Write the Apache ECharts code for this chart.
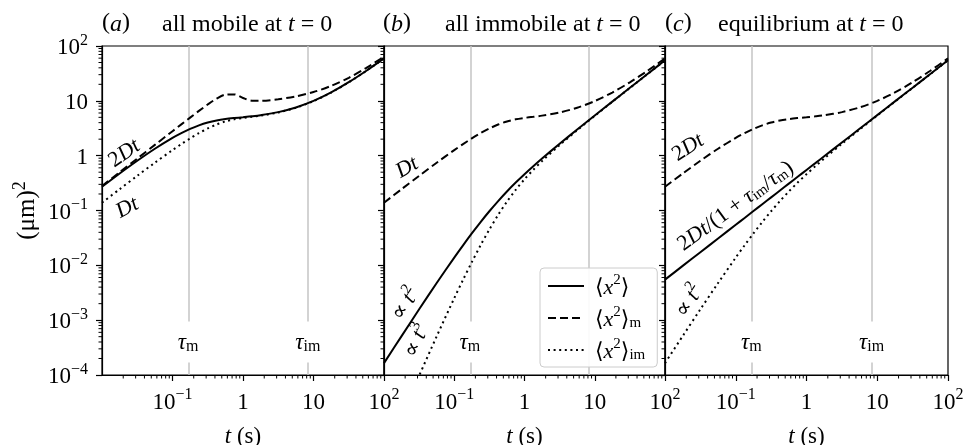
<!DOCTYPE html>
<html>
<head>
<meta charset="utf-8">
<script src="https://cdn.jsdelivr.net/npm/echarts@6/dist/echarts.min.js"></script>
<style>
  html, body { margin: 0; padding: 0; background: #fff; }
  #chart { width: 965px; height: 445px; }
</style>
</head>
<body>
<div id="chart"></div>
<script>
// Sampling times t (s)
const T = [0.01, 0.01778, 0.03162, 0.05623, 0.1, 0.1334, 0.1778, 0.2371, 0.3162, 0.4217,
           0.5623, 0.7499, 1, 1.334, 1.778, 3.162, 5.623, 10, 17.78, 31.62, 56.23, 100];

// (a) all mobile at t = 0 : <x^2>, <x^2>_m, <x^2>_im  (um^2)
const A_TOTAL    = [0.2718, 0.4723, 0.8066, 1.337, 2.108, 2.575, 3.072, 3.565, 4.011, 4.377,
                    4.651, 4.852, 5.025, 5.216, 5.462, 6.222, 7.573, 9.976, 14.25, 21.85, 35.36, 59.39];
const A_MOBILE   = [0.2800, 0.4979, 0.8853, 1.574, 2.795, 3.722, 4.947, 6.548, 8.580, 10.94,
                    12.96, 13.10, 11.28, 10.08, 9.984, 10.71, 12.06, 14.46, 18.73, 26.33, 39.84, 63.87];
const A_IMMOBILE = [0.1387, 0.2447, 0.4290, 0.7440, 1.264, 1.626, 2.064, 2.574, 3.134, 3.698,
                    4.204, 4.600, 4.886, 5.118, 5.371, 6.132, 7.483, 9.886, 14.16, 21.76, 35.27, 59.30];

// (b) all immobile at t = 0
const B_TOTAL    = [1.646e-4, 5.125e-4, 1.577e-3, 4.752e-3, 0.01384, 0.02317, 0.03814, 0.06150, 0.09686, 0.1486,
                    0.2219, 0.3229, 0.4595, 0.6424, 0.8866, 1.646, 2.998, 5.400, 9.674, 17.27, 30.78, 54.81];
const B_MOBILE   = [0.1387, 0.2447, 0.4290, 0.7440, 1.264, 1.626, 2.064, 2.574, 3.134, 3.698,
                    4.204, 4.600, 4.886, 5.118, 5.371, 6.132, 7.483, 9.886, 14.16, 21.76, 35.27, 59.30];
const B_IMMOBILE = [3.27e-6, 1.79e-5, 9.69e-5, 5.07e-4, 2.520e-3, 5.446e-3, 0.01144, 0.02320, 0.04504, 0.08309,
                    0.1449, 0.2382, 0.3712, 0.5530, 0.7969, 1.557, 2.908, 5.311, 9.584, 17.18, 30.69, 54.72];

// (c) equilibrium at t = 0
const C_TOTAL    = [0.005490, 0.009763, 0.01736, 0.03087, 0.05490, 0.07321, 0.09763, 0.1302, 0.1736, 0.2315,
                    0.3087, 0.4117, 0.5490, 0.7321, 0.9763, 1.736, 3.087, 5.490, 9.763, 17.36, 30.87, 54.90];
const C_MOBILE   = [0.2718, 0.4723, 0.8066, 1.337, 2.108, 2.575, 3.072, 3.565, 4.011, 4.377,
                    4.651, 4.852, 5.025, 5.216, 5.462, 6.222, 7.573, 9.976, 14.25, 21.85, 35.36, 59.39];
const C_IMMOBILE = [1.646e-4, 5.125e-4, 1.577e-3, 4.752e-3, 0.01384, 0.02317, 0.03814, 0.06150, 0.09686, 0.1486,
                    0.2219, 0.3229, 0.4595, 0.6424, 0.8866, 1.646, 2.998, 5.400, 9.674, 17.27, 30.78, 54.81];

// Characteristic times (s)
const TAU_M = 0.1667;
const TAU_IM = 8.33;

// Decade tick labels, keyed by exponent
const DECADE_LABELS = {
  '-4': '{n|10}{sup|−4}', '-3': '{n|10}{sup|−3}', '-2': '{n|10}{sup|−2}', '-1': '{n|10}{sup|−1}',
  '0': '{n|1}', '1': '{n|10}', '2': '{n|10}{sup|2}'
};

const PANEL_TITLES = [
  ['({i|a})', '{n|all mobile at }{i|t}{n| = 0}'],
  ['({i|b})', '{n|all immobile at }{i|t}{n| = 0}'],
  ['({i|c})', '{n|equilibrium at }{i|t}{n| = 0}']
];

const NAMES = ['msd', 'msdM', 'msdIm'];
const LEGEND_TEXT = {
  msd:   '{n|⟨}{i|x}{sup|2}{n|⟩}',
  msdM:  '{n|⟨}{i|x}{sup|2}{n|⟩}{sub|m}',
  msdIm: '{n|⟨}{i|x}{sup|2}{n|⟩}{sub|im}'
};

const FONT = "'Liberation Serif', 'Times New Roman', 'DejaVu Serif', serif";
function makeRich(size) {
  const small = Math.round(size * 0.7);
  const lh = size + 4;
  return {
    n:   { fontFamily: FONT, fontSize: size, lineHeight: lh, verticalAlign: 'bottom', color: '#000' },
    i:   { fontFamily: FONT, fontSize: size, lineHeight: lh, verticalAlign: 'bottom', fontStyle: 'italic', color: '#000' },
    sup: { fontFamily: FONT, fontSize: small, lineHeight: Math.round(size * 0.62), verticalAlign: 'top', color: '#000' },
    sub: { fontFamily: FONT, fontSize: small, lineHeight: Math.round(size * 0.45), verticalAlign: 'bottom', color: '#000' }
  };
}
const RICH_TITLE = makeRich(24);
const RICH_TICK = makeRich(23);
const RICH_NAME = makeRich(23);
const RICH_YNAME = makeRich(25);
const RICH_NOTE = makeRich(22);
const RICH_TAU = makeRich(23);
const RICH_LEGEND = makeRich(22);

// Panel geometry (px)
const GRID_TOP = 46, GRID_H = 329;
const GRID_BOX = [{ left: 102, width: 282 }, { left: 384, width: 281 }, { left: 665, width: 283 }];
const TITLE_POS = [[102, 162], [383, 445], [665, 718]];

const X_MIN = 0.01, X_MAX = 100, Y_MIN = 1e-4, Y_MAX = 100;

// Minor tick positions for the log axes
const MINOR = [2, 3, 4, 5, 6, 7, 8, 9];
const minorX = [], minorY = [];
for (let e = -2; e < 2; e++) MINOR.forEach(m => minorX.push(m * Math.pow(10, e)));
for (let e = -4; e < 2; e++) MINOR.forEach(m => minorY.push(m * Math.pow(10, e)));

function decadeLabel(v) {
  return DECADE_LABELS[String(Math.round(Math.log10(v)))] || '';
}

// Rotated curve annotations and tau markers, per panel (data coordinates)
const NOTES = [
  [
    { text: '{n|2}{i|Dt}', at: [0.0200, 1.17], rotate: 35 },
    { text: '{i|Dt}', at: [0.0222, 0.120], rotate: 28 }
  ],
  [
    { text: '{i|Dt}', at: [0.0206, 0.647], rotate: 30 },
    { text: '{n|∝ }{i|t}{sup|2}', at: [0.0193, 2.06e-3], rotate: 57 },
    { text: '{n|∝ }{i|t}{sup|3}', at: [0.0276, 4.34e-4], rotate: 66 }
  ],
  [
    { text: '{n|2}{i|Dt}', at: [0.0205, 1.50], rotate: 33 },
    { text: '{n|2}{i|Dt}{n|/(1 + }{i|τ}{sub|im}{n|/}{i|τ}{sub|m}{n|)}', at: [0.0960, 0.128], rotate: 36 },
    { text: '{n|∝ }{i|t}{sup|2}', at: [0.0211, 2.33e-3], rotate: 57 }
  ]
];
const TAU_LABEL_Y = 4.0e-4;
const TAU_LABELS = [
  [[TAU_M, '{i|τ}{sub|m}'], [TAU_IM, '{i|τ}{sub|im}']],
  [[TAU_M, '{i|τ}{sub|m}']],
  [[TAU_M, '{i|τ}{sub|m}'], [TAU_IM, '{i|τ}{sub|im}']]
];

const SERIES_DATA = [
  [A_TOTAL, A_MOBILE, A_IMMOBILE],
  [B_TOTAL, B_MOBILE, B_IMMOBILE],
  [C_TOTAL, C_MOBILE, C_IMMOBILE]
];
const LINE_TYPES = ['solid', [8, 4], [2, 3.6]];

const chart = echarts.init(document.getElementById('chart'), null, { renderer: 'canvas' });

const grids = [], xAxes = [], yAxes = [], series = [], titles = [];

GRID_BOX.forEach((g, i) => {
  grids.push({
    left: g.left, top: GRID_TOP, width: g.width, height: GRID_H,
    show: true, borderColor: '#000', borderWidth: 1.2, backgroundColor: 'transparent',
    containLabel: false, outerBoundsMode: 'none'
  });

  xAxes.push({
    gridIndex: i, type: 'log', logBase: 10, min: X_MIN, max: X_MAX,
    axisLine: { show: true, onZero: false, lineStyle: { color: '#000', width: 1.2 } },
    axisTick: { show: true, inside: false, length: 6, lineStyle: { color: '#000', width: 1.2 } },
    minorTick: { show: false }, splitLine: { show: false },
    axisLabel: {
      show: true, showMinLabel: false, showMaxLabel: true, margin: 12,
      formatter: decadeLabel, rich: RICH_TICK, fontFamily: FONT, fontSize: 23, color: '#000'
    },
    name: '{i|t}{n| (s)}', nameLocation: 'middle', nameGap: 46,
    nameTextStyle: { rich: RICH_NAME, fontFamily: FONT, fontSize: 23, color: '#000' }
  });

  yAxes.push({
    gridIndex: i, type: 'log', logBase: 10, min: Y_MIN, max: Y_MAX,
    axisLine: { show: true, onZero: false, lineStyle: { color: '#000', width: 1.2 } },
    axisTick: { show: true, inside: false, length: 6, lineStyle: { color: '#000', width: 1.2 } },
    minorTick: { show: false }, splitLine: { show: false },
    axisLabel: {
      show: i === 0, showMinLabel: true, showMaxLabel: true, margin: 14,
      formatter: decadeLabel, rich: RICH_TICK, fontFamily: FONT, fontSize: 23, color: '#000'
    },
    name: i === 0 ? '{n|(μm)}{sup|2}' : '', nameLocation: 'middle', nameGap: 62, nameRotate: 90,
    nameTextStyle: { rich: RICH_YNAME, fontFamily: FONT, fontSize: 25, color: '#000' }
  });

  // tau reference lines
  series.push({
    type: 'line', xAxisIndex: i, yAxisIndex: i, data: [], silent: true, z: 1,
    markLine: {
      silent: true, symbol: ['none', 'none'], z: 1,
      label: { show: false },
      lineStyle: { color: '#c4c4c4', width: 1.5, type: 'solid' },
      emphasis: { disabled: true },
      data: [{ xAxis: TAU_M }, { xAxis: TAU_IM }]
    }
  });

  // minor ticks on the bottom and left axes
  series.push({
    type: 'custom', xAxisIndex: i, yAxisIndex: i, silent: true, clip: false, z: 3,
    data: minorX.map(v => [v, Y_MIN, 0]).concat(minorY.map(v => [X_MIN, v, 1])),
    renderItem: (params, api) => {
      const p = api.coord([api.value(0), api.value(1)]);
      const horiz = api.value(2) === 1;
      return {
        type: 'line',
        shape: horiz ? { x1: p[0] - 3.5, y1: p[1], x2: p[0], y2: p[1] }
                     : { x1: p[0], y1: p[1], x2: p[0], y2: p[1] + 3.5 },
        style: { stroke: '#000', lineWidth: 1 }
      };
    }
  });

  // the three MSD curves
  SERIES_DATA[i].forEach((vals, k) => {
    series.push({
      type: 'line', name: NAMES[k], xAxisIndex: i, yAxisIndex: i,
      data: T.map((t, j) => [t, vals[j]]),
      symbol: 'none', showSymbol: false, smooth: 0.3, clip: true, silent: true, z: 10,
      itemStyle: { color: '#000' },
      lineStyle: { color: '#000', width: 2, type: LINE_TYPES[k], cap: 'butt' },
      emphasis: { disabled: true }
    });
  });

  // tau labels with a white box over the reference line
  series.push({
    type: 'scatter', xAxisIndex: i, yAxisIndex: i, silent: true, z: 9,
    symbolSize: 0, itemStyle: { opacity: 1, color: '#000' },
    data: TAU_LABELS[i].map(([tau, txt]) => ({
      value: [tau, TAU_LABEL_Y],
      label: { formatter: txt }
    })),
    label: {
      show: true, position: 'inside', rich: RICH_TAU, backgroundColor: '#fff',
      padding: [6, 2, 8, 2], fontFamily: FONT, fontSize: 23, color: '#000'
    }
  });

  // curve annotations
  series.push({
    type: 'scatter', xAxisIndex: i, yAxisIndex: i, silent: true, z: 11,
    symbolSize: 0, itemStyle: { opacity: 1, color: '#000' },
    data: NOTES[i].map(nt => ({
      value: nt.at,
      label: { formatter: nt.text, rotate: nt.rotate }
    })),
    label: {
      show: true, position: 'inside', rich: RICH_NOTE, fontFamily: FONT, fontSize: 22, color: '#000',
      align: 'center', verticalAlign: 'middle'
    }
  });

  titles.push({
    left: TITLE_POS[i][0], top: 9, padding: 0, text: PANEL_TITLES[i][0],
    textStyle: { rich: RICH_TITLE, fontFamily: FONT, fontSize: 24, fontWeight: 'normal', color: '#000' }
  });
  titles.push({
    left: TITLE_POS[i][1], top: 9, padding: 0, text: PANEL_TITLES[i][1],
    textStyle: { rich: RICH_TITLE, fontFamily: FONT, fontSize: 24, fontWeight: 'normal', color: '#000' }
  });
});

chart.setOption({
  animation: false,
  backgroundColor: '#fff',
  title: titles,
  grid: grids,
  xAxis: xAxes,
  yAxis: yAxes,
  legend: {
    data: NAMES, left: 540, top: 268, orient: 'vertical', z: 20,
    itemWidth: 36, itemHeight: 14, itemGap: 6, padding: [5, 12, 4, 7],
    backgroundColor: 'rgba(255,255,255,0.9)', borderColor: '#cccccc', borderWidth: 1, borderRadius: 4,
    selectedMode: false,
    itemStyle: { opacity: 0 },
    formatter: name => LEGEND_TEXT[name],
    textStyle: { rich: RICH_LEGEND, fontFamily: FONT, fontSize: 22, color: '#000', padding: [0, 0, 0, 6] }
  },
  series: series
});
</script>
</body>
</html>
